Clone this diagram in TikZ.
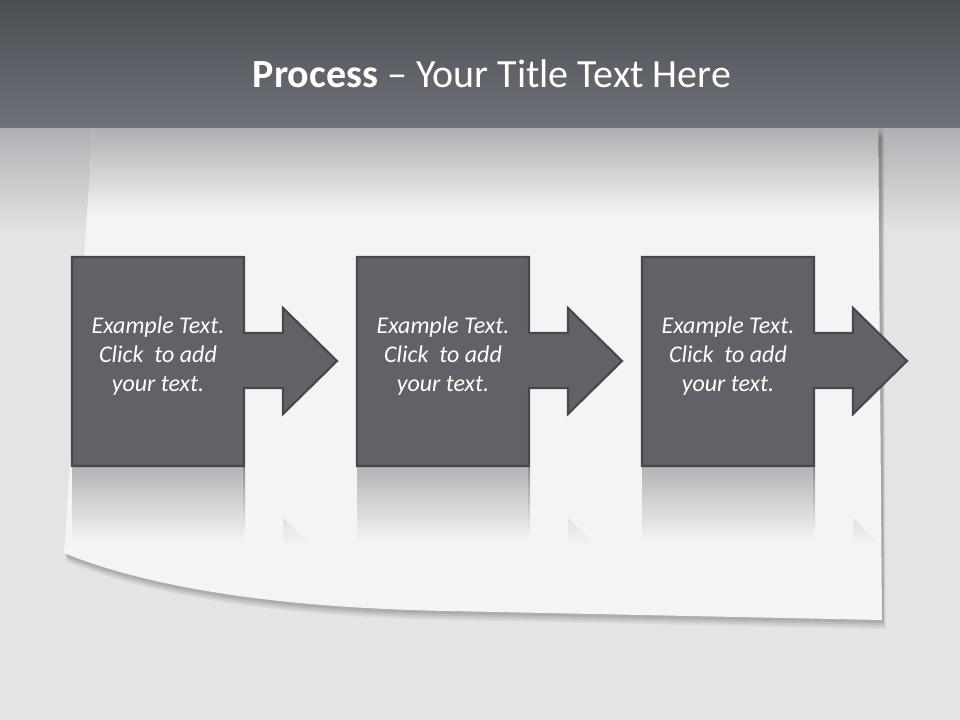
\documentclass[tikz,border=0pt]{standalone}
\usepackage{fontspec}
\setmainfont{Carlito}
\definecolor{hdrtop}{HTML}{4B4E53}
\definecolor{hdrbot}{HTML}{70727A}
\definecolor{bg}{HTML}{E3E4E5}
\definecolor{bgshade}{HTML}{AEB0B3}
\definecolor{paper}{HTML}{F4F4F4}
\definecolor{papershade}{HTML}{ADAFB2}
\definecolor{boxfill}{HTML}{606267}
\definecolor{boxline}{HTML}{46484C}
\definecolor{reflect}{HTML}{B3B4B7}
\definecolor{reflectedge}{HTML}{8E9093}
\definecolor{headreflect}{HTML}{E0E1E2}
\tikzset{
  stepshape/.style={fill=boxfill, draw=boxline, line width=1.6pt, line join=miter},
  steptext/.style={text=white, font=\fontsize{18}{22}\selectfont\itshape, align=center, inner sep=0pt},
  titletext/.style={text=white, font=\fontsize{30}{36}\selectfont, inner sep=0pt, anchor=base}
}
\begin{document}
\begin{tikzpicture}[x=0.75pt,y=-0.75pt]
\useasboundingbox (0,0) rectangle (960,720);
% background
\fill[bg] (0,0) rectangle (960,720);
\shade[top color=bgshade, bottom color=bg] (0,128) rectangle (960,235);
% paper shadow under the curl
\foreach \o/\op in {9/0.05,7/0.06,5/0.07,3/0.08}{
  \fill[black, opacity=\op, xshift=0.75*\o pt*0.4, yshift=-0.75*\o pt]
    (93,128) -- (64,553) .. controls (150,588) and (280,608) .. (450,611) -- (882,620) -- (880,128) -- cycle;
}
% right edge shadow
\fill[black, opacity=0.05] (878,128) -- (884,128) -- (884,622) -- (882,622) -- cycle;
% paper
\begin{scope}
\path[clip] (93,128) -- (64,553) .. controls (150,588) and (280,608) .. (450,611) -- (882,620) -- (878,128) -- cycle;
\fill[paper] (0,0) rectangle (960,720);
\shade[top color=papershade, bottom color=paper] (0,128) rectangle (960,215);
\end{scope}
% header band
\shade[top color=hdrtop, bottom color=hdrbot] (0,0) rectangle (960,128);
\node[titletext] (title) at (492,88) {\textbf{Process} – Your Title Text Here};
% steps
\foreach \i/\dx in {1/0,2/285,3/570}{
  \begin{scope}[xshift=\dx*0.75pt]
    % reflection of the box
    \shade[top color=reflect, bottom color=paper] (72,467) rectangle (244,542);
    \shade[top color=reflectedge, bottom color=paper] (243,467) rectangle (245,536);
    % reflection of the arrow head
    \shade[top color=headreflect, bottom color=paper] (283,518) -- (283,546) -- (311,546) -- cycle;
    % box with arrow
    \draw[stepshape] (72,257) -- (244,257) -- (244,333) -- (283,333) -- (283,308) -- (337,361)
      -- (283,414) -- (283,388) -- (244,388) -- (244,466) -- (72,466) -- cycle;
    \node[steptext] (t\i) at (158,356) {Example Text.\\Click\ \ to add\\your text.};
  \end{scope}
}
\end{tikzpicture}
\end{document}
